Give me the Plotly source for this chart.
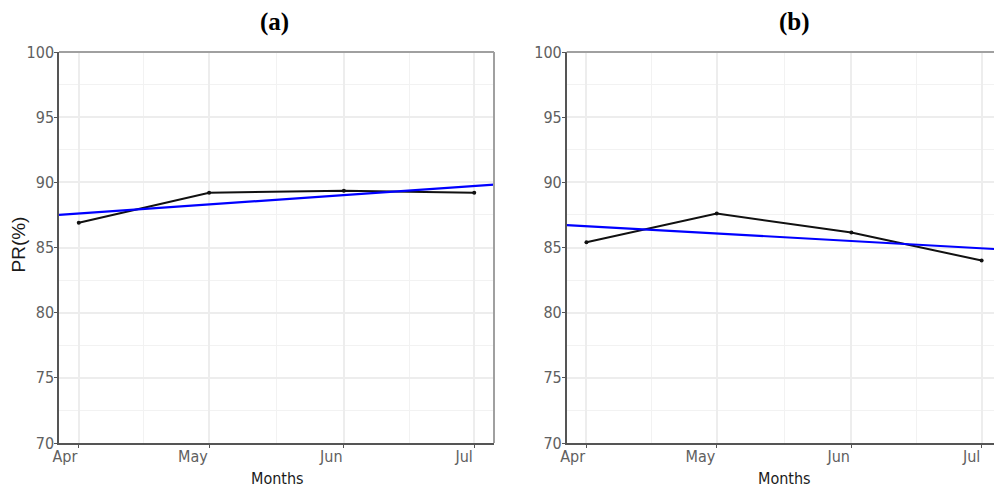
import numpy as np
import pandas as pd
import plotly.graph_objects as go

# Monthly performance ratio (%) for two systems, with a linear trend
months = ["2021-04-01", "2021-05-01", "2021-06-01", "2021-07-01"]
pr_a = [86.9, 89.2, 89.35, 89.2]
pr_b = [85.4, 87.6, 86.15, 84.0]
panel_titles = ["(a)", "(b)"]
y_ticks = [70, 75, 80, 85, 90, 95, 100]
x_title = "Months"
y_title = "PR(%)"

W, H = 994, 487
dates = pd.to_datetime(months)
pad = (dates[-1] - dates[0]) * 0.05
x_lo = dates[0] - pad
x_hi = dates[-1] + pad
x_hi_b = dates[-1] + pd.Timedelta(days=2.85)   # right panel runs off the page
mids = [dates[i] + (dates[i + 1] - dates[i]) / 2 for i in range(len(dates) - 1)]

day = pd.Timedelta(days=1)


def trend(values):
    """Least-squares line over the whole x range."""
    d = np.array([(t - dates[0]) / day for t in dates])
    slope, icpt = np.polyfit(d, values, 1)
    ends = np.array([(x_lo - dates[0]) / day, (x_hi - dates[0]) / day])
    return [x_lo, x_hi], icpt + slope * ends


dom_a = [59 / W, 494 / W]
dom_b = [566.7 / W, 1.0]
dom_y = [(H - 443) / H, (H - 52) / H]

fig = go.Figure()
for vals, xa, ya in [(pr_a, "x", "y"), (pr_b, "x2", "y2")]:
    fig.add_trace(go.Scatter(
        x=dates, y=vals, xaxis=xa, yaxis=ya, mode="lines+markers",
        line=dict(color="#111111", width=2), marker=dict(color="#111111", size=4),
        showlegend=False))
    tx, ty = trend(vals)
    fig.add_trace(go.Scatter(
        x=tx, y=ty, xaxis=xa, yaxis=ya, mode="lines",
        line=dict(color="#0000ff", width=2.2), showlegend=False))

narrow = "DejaVu Sans Condensed, Liberation Sans Narrow, Arial Narrow, Liberation Sans, sans-serif"
tick_font = dict(family=narrow, size=16, color="#606060")
axis_col = "#555555"
grid_col = "#ededed"


def xaxis(domain, rng, anchor):
    return dict(type="date", domain=domain, range=rng, anchor=anchor, automargin=False,
                tickmode="array", tickvals=list(dates), tickformat="%b",
                ticks="outside", ticklen=3, tickcolor=axis_col, tickwidth=1.2,
                ticklabelposition="outside left", ticklabelstandoff=-2,
                showline=True, linecolor=axis_col, linewidth=1.5,
                showgrid=True, gridcolor=grid_col, gridwidth=1.5,
                minor=dict(tickmode="array", tickvals=mids, showgrid=True,
                           gridcolor="#f2f2f2", gridwidth=1, ticks=""),
                zeroline=False, tickfont=tick_font, fixedrange=True)


def yaxis(anchor):
    return dict(domain=dom_y, range=[70, 100], anchor=anchor, automargin=False,
                tickmode="array", tickvals=y_ticks,
                ticks="outside", ticklen=3, tickcolor=axis_col, tickwidth=1.2,
                ticklabelstandoff=-3,
                showline=True, linecolor=axis_col, linewidth=1.5,
                showgrid=True, gridcolor=grid_col, gridwidth=1.5,
                minor=dict(dtick=2.5, showgrid=True, gridcolor="#f2f2f2", gridwidth=1, ticks=""),
                zeroline=False, tickfont=tick_font, fixedrange=True)


border = dict(color="#a0a0a0", width=2)
shapes = [
    dict(type="line", xref="paper", yref="paper", x0=dom_a[0], x1=dom_a[1], y0=dom_y[1], y1=dom_y[1], line=border),
    dict(type="line", xref="paper", yref="paper", x0=dom_a[1], x1=dom_a[1], y0=dom_y[0], y1=dom_y[1], line=border),
    dict(type="line", xref="paper", yref="paper", x0=dom_b[0], x1=dom_b[1], y0=dom_y[1], y1=dom_y[1], line=border),
]

title_font = dict(family="Liberation Serif, Times New Roman, serif", size=25, color="#000000")
lab_font = dict(family=narrow, size=16, color="#1a1a1a")
annotations = [
    dict(text="<b>%s</b>" % panel_titles[0], x=274 / W, y=1 - 22 / H, xref="paper", yref="paper",
         showarrow=False, font=title_font, xanchor="center", yanchor="middle"),
    dict(text="<b>%s</b>" % panel_titles[1], x=794 / W, y=1 - 22 / H, xref="paper", yref="paper",
         showarrow=False, font=title_font, xanchor="center", yanchor="middle"),
    dict(text=x_title, x=277 / W, y=1 - 478 / H, xref="paper", yref="paper",
         showarrow=False, font=lab_font, xanchor="center", yanchor="middle"),
    dict(text=x_title, x=784 / W, y=1 - 478 / H, xref="paper", yref="paper",
         showarrow=False, font=lab_font, xanchor="center", yanchor="middle"),
    dict(text=y_title, x=18.5 / W, y=1 - 245 / H, xref="paper", yref="paper", textangle=-90,
         showarrow=False, font=dict(family="Liberation Sans, Arial, sans-serif", size=19, color="#1a1a1a"),
         xanchor="center", yanchor="middle"),
]

fig.update_layout(
    width=W, height=H, margin=dict(l=0, r=0, t=0, b=0, autoexpand=False),
    paper_bgcolor="white", plot_bgcolor="white",
    xaxis=xaxis(dom_a, [x_lo, x_hi], "y"),
    yaxis=yaxis("x"),
    xaxis2=xaxis(dom_b, [x_lo, x_hi_b], "y2"),
    yaxis2=yaxis("x2"),
    shapes=shapes, annotations=annotations,
)

fig.write_html("out.html")
